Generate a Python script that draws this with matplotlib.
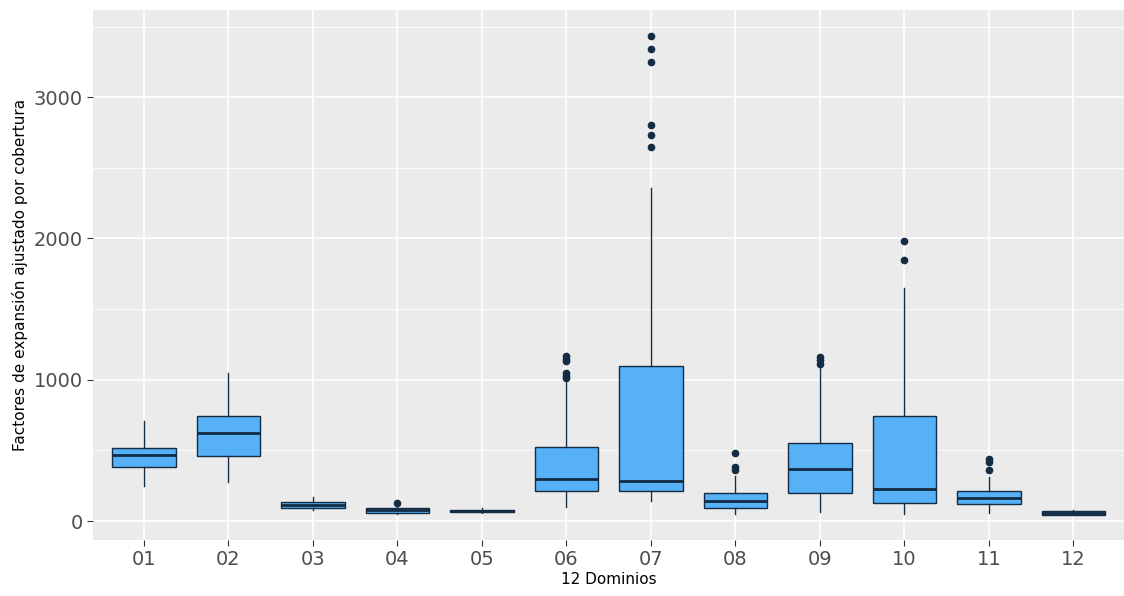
import matplotlib
matplotlib.use("Agg")
import matplotlib.pyplot as plt

cats = ["01","02","03","04","05","06","07","08","09","10","11","12"]
whislo = [250,275,80,50,55,100,140,50,65,50,60,40]
q1 = [385,460,95,60,65,215,215,95,195,130,120,45]
med = [465,620,115,75,72,295,280,140,370,230,165,55]
q3 = [515,745,135,90,80,525,1095,195,555,745,215,70]
whishi = [710,1050,170,110,95,990,2360,320,1090,1650,310,80]
fliers = [[],[],[],[130],[],[1010,1030,1050,1130,1150,1170],
          [2650,2730,2800,3250,3340,3430],[360,380,480],[1110,1140,1160],
          [1850,1980],[360,420,440],[]]

stats = [dict(label=c, whislo=a, q1=b, med=m, q3=d, whishi=e, fliers=f)
         for c,a,b,m,d,e,f in zip(cats,whislo,q1,med,q3,whishi,fliers)]

fig = plt.figure(figsize=(11.24,5.96), dpi=100)
ax = fig.add_axes([0.083, 0.094, 0.917, 0.889])
ax.set_facecolor("#EBEBEB")
for y in [500,1500,2500,3500]:
    ax.axhline(y, color="white", lw=0.6, zorder=0)
for y in [0,1000,2000,3000]:
    ax.axhline(y, color="white", lw=1.2, zorder=0)
for x in range(1,13):
    ax.axvline(x, color="white", lw=1.2, zorder=0)
edge = "#132B43"
ax.bxp(stats, positions=range(1,13), widths=0.75, patch_artist=True, showcaps=False,
       boxprops=dict(facecolor="#56B1F7", edgecolor=edge, lw=1),
       medianprops=dict(color=edge, lw=2),
       whiskerprops=dict(color=edge, lw=1),
       flierprops=dict(marker="o", markerfacecolor=edge, markeredgecolor=edge, markersize=4.5))
ax.set_xlim(0.4,12.6)
ax.set_ylim(-134,3616)
ax.set_yticks([0,1000,2000,3000])
ax.set_xticks(range(1,13))
ax.set_xticklabels(cats)
for s in ax.spines.values():
    s.set_visible(False)
ax.tick_params(colors="#4D4D4D", labelsize=14, length=4, color="#333333")
ax.set_xlabel("12 Dominios", fontsize=11, labelpad=2)
ax.set_ylabel("Factores de expansión ajustado por cobertura", fontsize=11)
fig.savefig("out.png", dpi=100)
